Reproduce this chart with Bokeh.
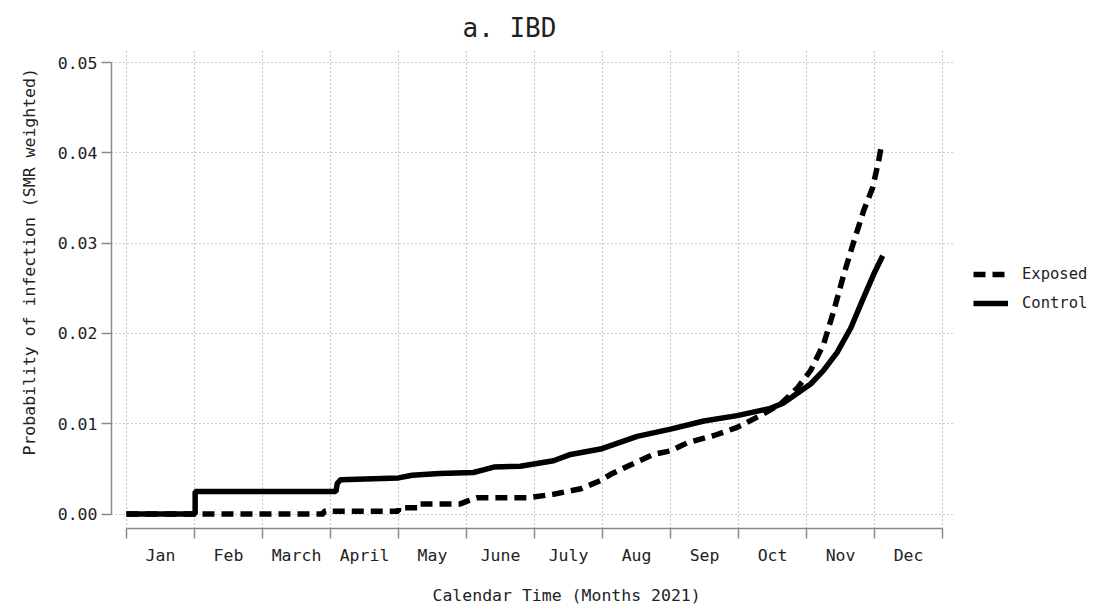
from bokeh.plotting import figure
from bokeh.models import FixedTicker, PrintfTickFormatter, Legend, LegendItem, Title, Range1d
from bokeh.embed import file_html
from bokeh.resources import INLINE

# ---- data (x in months since 1 Jan 2021; 0 = Jan start, 12 = Dec end) ----
months = ["Jan", "Feb", "March", "April", "May", "June", "July",
          "Aug", "Sep", "Oct", "Nov", "Dec"]
y_ticks = [0.0, 0.01, 0.02, 0.03, 0.04, 0.05]

control_x = [0.0, 1.01, 1.01, 3.08, 3.10, 3.15, 4.0, 4.2, 4.6, 5.1, 5.25, 5.4,
             5.79, 6.28, 6.53, 6.97, 7.51, 8.0, 8.49, 8.98, 9.47, 9.66, 9.87,
             10.06, 10.25, 10.45, 10.65, 10.84, 10.99, 11.12]
control_y = [0.0, 0.0, 0.0025, 0.0025, 0.0034, 0.0038, 0.0040, 0.0043, 0.0045,
             0.0046, 0.0049, 0.0052, 0.0053, 0.0059, 0.0066, 0.0072, 0.0086,
             0.0094, 0.0103, 0.0109, 0.0117, 0.0123, 0.0134, 0.0144, 0.0159,
             0.0179, 0.0206, 0.0240, 0.0266, 0.0286]

exposed_x = [0.0, 2.9, 2.9, 4.0, 4.0, 4.3, 4.3, 4.9, 5.0, 5.15, 5.9, 6.28,
             6.68, 6.97, 7.12, 7.37, 7.75, 8.0, 8.25, 8.64, 8.98, 9.32, 9.62,
             9.87, 10.06, 10.25, 10.40, 10.55, 10.70, 10.84, 10.97, 11.06, 11.10]
exposed_y = [0.0, 0.0, 0.0003, 0.0003, 0.0007, 0.0007, 0.0011, 0.0011, 0.0014,
             0.0018, 0.0018, 0.0022, 0.0028, 0.0037, 0.0044, 0.0053, 0.0066,
             0.0070, 0.0079, 0.0087, 0.0096, 0.0109, 0.0122, 0.0140, 0.0159,
             0.0188, 0.0225, 0.0266, 0.0303, 0.0336, 0.0361, 0.0391, 0.0408]

FONT = "DejaVu Sans Mono"
AX_COL = "#8a8a8a"
TXT_COL = "#222222"

p = figure(frame_width=844, frame_height=478, output_backend="svg",
           toolbar_location=None,
           x_range=Range1d(-0.22, 12.19), y_range=Range1d(-0.0016, 0.05133),
           min_border_left=111, min_border_right=150, min_border_top=50,
           min_border_bottom=70)
p.outline_line_color = None
p.background_fill_color = "white"

p.title.text = "a. IBD"
p.title.text_font = FONT
p.title.text_font_size = "26px"
p.title.text_font_style = "normal"
p.title.text_color = TXT_COL
p.title.align = "left"
p.title.offset = 351
p.title.standoff = 12
p.title.vertical_align = "top"

# x axis: labels in month centres, tick marks at month boundaries
xa = p.xaxis[0]
xa.ticker = FixedTicker(ticks=[i + 0.5 for i in range(len(months))],
                        minor_ticks=list(range(len(months) + 1)))
xa.major_label_overrides = {i + 0.5: m for i, m in enumerate(months)}
xa.major_tick_line_color = None
xa.major_tick_out = 0
xa.major_tick_in = 0
xa.minor_tick_in = 0
xa.minor_tick_out = 10
xa.minor_tick_line_color = AX_COL
xa.minor_tick_line_width = 1.5
xa.axis_line_color = AX_COL
xa.axis_line_width = 1.5
xa.bounds = (0, 12)
xa.major_label_text_font = FONT
xa.major_label_text_font_size = "16.5px"
xa.major_label_text_color = TXT_COL
xa.major_label_standoff = 7

ya = p.yaxis[0]
ya.ticker = FixedTicker(ticks=y_ticks, minor_ticks=[])
ya.formatter = PrintfTickFormatter(format="%.2f")
ya.bounds = (0, 0.05)
ya.axis_line_color = AX_COL
ya.axis_line_width = 1.5
ya.major_tick_line_color = AX_COL
ya.major_tick_line_width = 1.5
ya.major_tick_in = 0
ya.major_tick_out = 10
ya.minor_tick_line_color = None
ya.major_label_text_font = FONT
ya.major_label_text_font_size = "16.5px"
ya.major_label_text_color = TXT_COL
ya.major_label_standoff = 4

p.xgrid.ticker = FixedTicker(ticks=list(range(len(months) + 1)))
for g in (p.xgrid, p.ygrid):
    g.grid_line_color = "#9a9a9a"
    g.grid_line_dash = "1 3"
    g.grid_line_width = 1.2

p.add_layout(Title(text="Calendar Time (Months 2021)", align="left", offset=321,
                   standoff=33, text_font=FONT, text_font_size="16.5px",
                   text_font_style="normal", text_color=TXT_COL), "below")
p.add_layout(Title(text="Probability of infection (SMR weighted)", align="left",
                   offset=73, standoff=28, vertical_align="top", text_font=FONT,
                   text_font_size="16.5px", text_font_style="normal",
                   text_color=TXT_COL), "left")

r_ctrl = p.line(control_x, control_y, line_color="black", line_width=5.5)
r_exp = p.line(exposed_x, exposed_y, line_color="black", line_width=5.5,
               line_dash="12 7", line_cap="butt")

legend = Legend(items=[LegendItem(label="Exposed", renderers=[r_exp]),
                       LegendItem(label="Control", renderers=[r_ctrl])],
                location=(18, 215), border_line_color=None,
                background_fill_alpha=0, label_text_font=FONT,
                label_text_font_size="15.5px", label_text_color=TXT_COL,
                glyph_width=35, glyph_height=20, label_height=20,
                label_standoff=14, spacing=9, margin=0, padding=10)
p.add_layout(legend, "right")

open("out.html", "w").write(file_html(p, INLINE))
